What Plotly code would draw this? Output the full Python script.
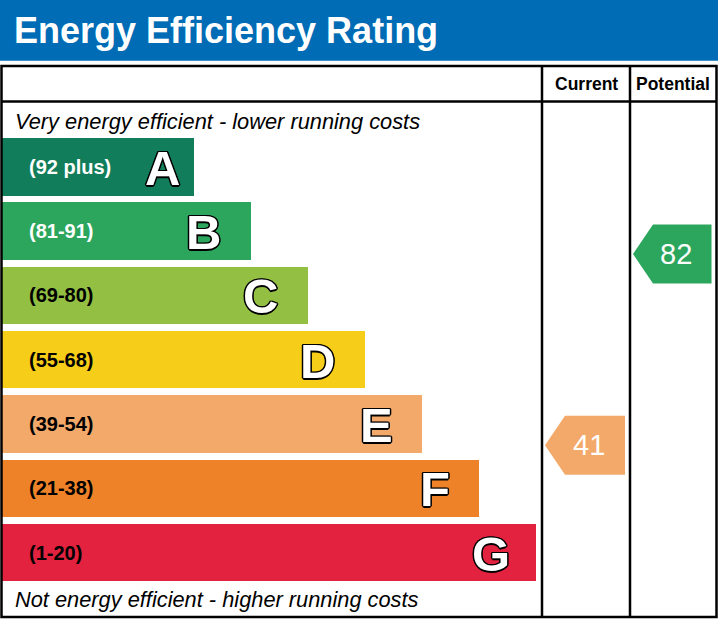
import plotly.graph_objects as go

# ---------------- data ----------------
bands = ["A", "B", "C", "D", "E", "F", "G"]
band_ranges = ["(92 plus)", "(81-91)", "(69-80)", "(55-68)", "(39-54)", "(21-38)", "(1-20)"]
band_low = [92, 81, 69, 55, 39, 21, 1]
band_high = [100, 91, 80, 68, 54, 38, 20]
band_colors = ["#127d5a", "#2ca65d", "#93bf43", "#f6cd18", "#f2a96a", "#ee8228", "#e2223e"]
range_text_colors = ["white", "white", "black", "black", "black", "black", "black"]
current_rating = 41
potential_rating = 82
column_titles = ["Current", "Potential"]
title_text = "Energy Efficiency Rating"
top_note = "Very energy efficient - lower running costs"
bottom_note = "Not energy efficient - higher running costs"

# ---------------- layout geometry (pixels) ----------------
W, H = 718, 619
HEADER_BOTTOM = 60.7
TABLE_L, TABLE_R, TABLE_T, TABLE_B = 1.5, 716.5, 66, 617
HEAD_ROW_B = 101.5
COL1_L, COL2_L = 542, 630
BAR_LEFT = 2
BAR_TOP0 = 138
BAR_PITCH = 64.33
BAR_H = 57.5
BAR_LEN0 = 191.5
BAR_STEP = 57
LETTER_OFFSETS = [31, 47, 47, 47, 45, 44, 45]
FONT = "Liberation Sans, Arial"

tops = [BAR_TOP0 + i * BAR_PITCH for i in range(len(bands))]
centers = [t + BAR_H / 2 for t in tops]
lengths = [BAR_LEN0 + i * BAR_STEP for i in range(len(bands))]
ends = [BAR_LEFT + l for l in lengths]

fig = go.Figure()

fig.add_trace(go.Bar(
    orientation="h", y=centers, x=lengths, base=BAR_LEFT, width=BAR_H,
    marker=dict(color=band_colors, line=dict(width=0)),
    hoverinfo="skip", showlegend=False,
))


def band_index(v):
    for i, (lo, hi) in enumerate(zip(band_low, band_high)):
        if lo <= v <= hi:
            return i
    return len(bands) - 1


def rating_y(v):
    i = band_index(v)
    frac = (v - band_low[i]) / (band_high[i] - band_low[i])
    bottom = tops[i] + BAR_H
    return bottom - frac * BAR_H, i


ann = []
arrow_specs = [(current_rating, COL1_L, COL2_L), (potential_rating, COL2_L, TABLE_R)]
for val, cl, cr in arrow_specs:
    yc, i = rating_y(val)
    tip = cl + 3
    body = tip + 20
    right = cr - 5
    hh = 29.5
    xs = [tip, body, right, right, body, tip]
    ys = [yc, yc - hh, yc - hh, yc + hh, yc + hh, yc]
    fig.add_trace(go.Scatter(
        x=xs, y=ys, mode="lines", fill="toself", fillcolor=band_colors[i],
        line=dict(width=0, color=band_colors[i]), hoverinfo="skip", showlegend=False,
    ))
    ann.append(dict(
        x=(tip + right) / 2 + 4, y=yc, text=str(val), showarrow=False,
        font=dict(family=FONT, size=29, color="white"),
        xanchor="center", yanchor="middle",
    ))

shapes = [
    dict(type="rect", x0=0, x1=W, y0=0, y1=HEADER_BOTTOM, fillcolor="#006cb5",
         line=dict(width=0), layer="below"),
    dict(type="rect", x0=TABLE_L, x1=TABLE_R, y0=TABLE_T, y1=TABLE_B,
         line=dict(color="black", width=2.5)),
    dict(type="line", x0=TABLE_L, x1=TABLE_R, y0=HEAD_ROW_B, y1=HEAD_ROW_B,
         line=dict(color="black", width=2.5)),
    dict(type="line", x0=COL1_L, x1=COL1_L, y0=TABLE_T, y1=TABLE_B,
         line=dict(color="black", width=2.5)),
    dict(type="line", x0=COL2_L, x1=COL2_L, y0=TABLE_T, y1=TABLE_B,
         line=dict(color="black", width=2.5)),
]

ann.append(dict(x=12, y=30, text=title_text, showarrow=False, xanchor="left", yanchor="middle",
                font=dict(family=FONT, size=36, color="white", weight="bold")))
for t, cl, cr in zip(column_titles, [COL1_L, COL2_L], [COL2_L, TABLE_R]):
    ann.append(dict(x=(cl + cr) / 2, y=84, text=t, showarrow=False, xanchor="center", yanchor="middle",
                    font=dict(family=FONT, size=17.5, color="black", weight="bold")))
ann.append(dict(x=13, y=121, text=top_note, showarrow=False, xanchor="left", yanchor="middle",
                font=dict(family=FONT, size=21.8, color="black", style="italic")))
ann.append(dict(x=13, y=599, text=bottom_note, showarrow=False, xanchor="left", yanchor="middle",
                font=dict(family=FONT, size=21.8, color="black", style="italic")))

outline = ", ".join(f"{dx}px {dy}px 0 #000" for dx, dy in
                    [(1.5, 0), (-1.5, 0), (0, 1.5), (0, -1.5), (1.1, 1.1), (-1.1, 1.1), (1.1, -1.1), (-1.1, -1.1)])
for i, b in enumerate(bands):
    ann.append(dict(x=27, y=centers[i], text=band_ranges[i], showarrow=False, xanchor="left", yanchor="middle",
                    font=dict(family=FONT, size=20, color=range_text_colors[i], weight="bold")))
    ann.append(dict(x=ends[i] - LETTER_OFFSETS[i], y=centers[i] + 1, text=b, showarrow=False,
                    xanchor="center", yanchor="middle",
                    font=dict(family=FONT, size=49, color="white", weight="bold", shadow=outline)))

fig.update_layout(
    width=W, height=H, autosize=False,
    margin=dict(l=0, r=0, t=0, b=0, pad=0),
    paper_bgcolor="white", plot_bgcolor="white",
    xaxis=dict(range=[0, W], visible=False, fixedrange=True),
    yaxis=dict(range=[H, 0], visible=False, fixedrange=True),
    shapes=shapes, annotations=ann, bargap=0,
)

fig.write_html("out.html", config={"displayModeBar": False},
               post_script="document.body.style.margin='0';document.body.style.overflow='hidden';")
